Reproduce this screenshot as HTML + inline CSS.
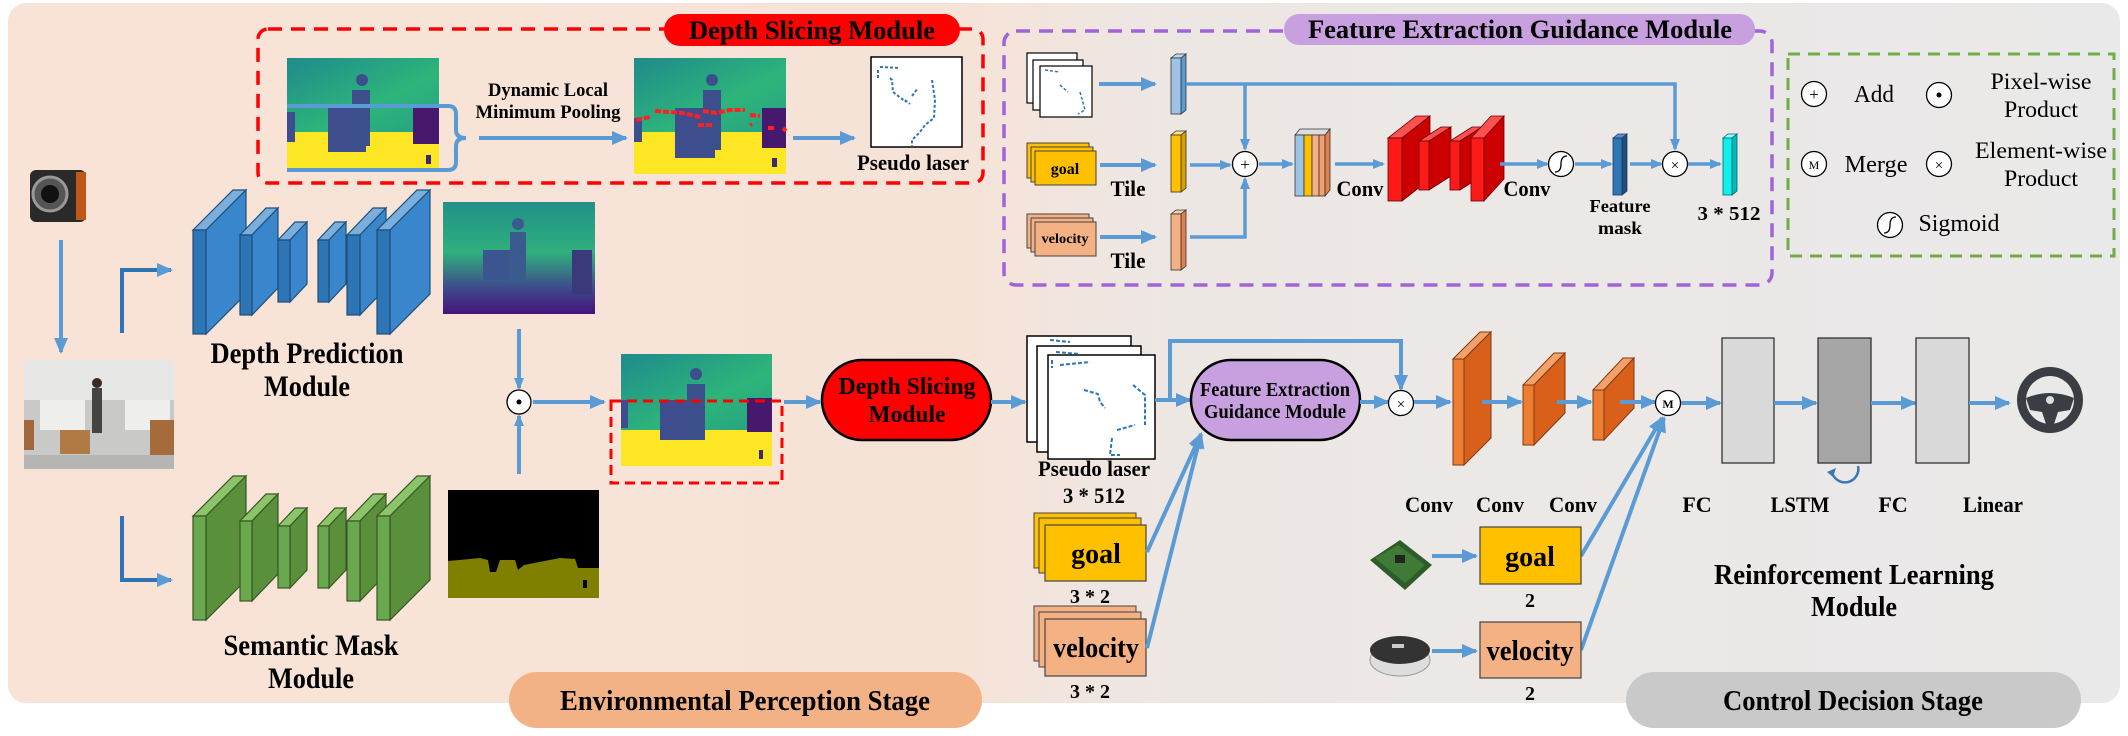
<!DOCTYPE html>
<html><head><meta charset="utf-8">
<style>
html,body{margin:0;padding:0;background:#fff;}
svg{display:block;}
svg text{font-family:"Liberation Serif","DejaVu Serif",serif;font-weight:bold;fill:#000;}
</style></head>
<body>
<svg width="2128" height="736" viewBox="0 0 2128 736" xmlns="http://www.w3.org/2000/svg" font-family="Liberation Serif, DejaVu Serif, serif">
<defs>
<linearGradient id="bg" x1="0" y1="0" x2="1" y2="0">
<stop offset="0" stop-color="#f9e3d6"/><stop offset="0.45" stop-color="#f6e3d8"/><stop offset="0.55" stop-color="#ede7e4"/><stop offset="1" stop-color="#e9e9e9"/>
</linearGradient>
<linearGradient id="dep" x1="0" y1="0" x2="0" y2="1">
<stop offset="0" stop-color="#22908a"/><stop offset="0.45" stop-color="#2fb07c"/><stop offset="0.75" stop-color="#3d4f8c"/><stop offset="1" stop-color="#45137a"/>
</linearGradient>
<linearGradient id="tl" x1="0" y1="0" x2="1" y2="1">
<stop offset="0" stop-color="#1f8a8c"/><stop offset="0.6" stop-color="#2db57a"/><stop offset="1" stop-color="#26a083"/>
</linearGradient>
<marker id="a" markerWidth="16" markerHeight="14" refX="14" refY="7" orient="auto" markerUnits="userSpaceOnUse">
<path d="M0,0 L16,7 L0,14 Z" fill="#5b9bd5"/></marker>
<marker id="as" markerWidth="12" markerHeight="10" refX="10" refY="5" orient="auto" markerUnits="userSpaceOnUse">
<path d="M0,0 L12,5 L0,10 Z" fill="#5b9bd5"/></marker>
</defs>

<rect x="8" y="3" width="2112" height="700" rx="18" fill="url(#bg)"/>

<rect x="509" y="672" width="473" height="56" rx="28" fill="#f2b285"/>
<text x="745" y="710" font-size="28" text-anchor="middle" textLength="370" lengthAdjust="spacingAndGlyphs">Environmental Perception Stage</text>
<rect x="1626" y="672" width="455" height="56" rx="28" fill="#c9c9c9"/>
<text x="1853" y="710" font-size="28" text-anchor="middle" textLength="260" lengthAdjust="spacingAndGlyphs">Control Decision Stage</text>

<rect x="258" y="29" width="725" height="154" rx="10" fill="none" stroke="#ff0000" stroke-width="3.5" stroke-dasharray="14,9"/>
<rect x="664" y="14" width="296" height="32" rx="16" fill="#ff0000"/>
<text x="812" y="39" font-size="26" text-anchor="middle" textLength="246" lengthAdjust="spacingAndGlyphs">Depth Slicing Module</text>

<g>
<rect x="287" y="58" width="152" height="74" fill="url(#tl)"/>
<rect x="287" y="132" width="152" height="40" fill="#fde725"/>
<rect x="328" y="106" width="38" height="46" fill="#3e4d8e"/>
<rect x="352" y="90" width="18" height="56" fill="#3b4f8c"/>
<circle cx="362" cy="80" r="6" fill="#3b4f8c"/>
<rect x="413" y="108" width="26" height="36" fill="#46186e"/>
<rect x="287" y="112" width="8" height="30" fill="#3e4d8e"/>
<rect x="426" y="155" width="5" height="9" fill="#3b2a6e"/>
</g>
<path d="M287,106 L448,106 Q456,106 456,114 L456,130 Q456,138 466,138 Q456,138 456,146 L456,162 Q456,170 448,170 L287,170" fill="none" stroke="#5b9bd5" stroke-width="4"/>
<text x="548" y="96" font-size="19" text-anchor="middle" textLength="120" lengthAdjust="spacingAndGlyphs">Dynamic Local</text>
<text x="548" y="118" font-size="19" text-anchor="middle" textLength="145" lengthAdjust="spacingAndGlyphs">Minimum Pooling</text>
<line x1="479" y1="138" x2="626" y2="138" stroke="#5b9bd5" stroke-width="4" marker-end="url(#a)"/>
<g>
<rect x="634" y="58" width="152" height="74" fill="url(#tl)"/>
<rect x="634" y="132" width="152" height="42" fill="#fde725"/>
<rect x="675" y="108" width="40" height="50" fill="#3e4d8e"/>
<rect x="703" y="90" width="18" height="60" fill="#3b4f8c"/>
<circle cx="712" cy="80" r="6" fill="#3b4f8c"/>
<rect x="762" y="108" width="24" height="40" fill="#46186e"/>
<rect x="634" y="118" width="8" height="24" fill="#3e4d8e"/>
<rect x="772" y="158" width="5" height="9" fill="#3b2a6e"/>
<path d="M636,120 L650,117 M655,111 L683,113 L700,117 M703,111 L716,113 L730,110 L745,110 M750,115 L760,116 M768,128 L775,128 M752,124 L750,125 M698,125 L714,125 M783,128 L786,131" stroke="#ff2020" stroke-width="4" fill="none" stroke-dasharray="6,2"/>
</g>
<line x1="793" y1="138" x2="854" y2="138" stroke="#5b9bd5" stroke-width="4" marker-end="url(#a)"/>
<rect x="871" y="57" width="91" height="90" fill="#fff" stroke="#000" stroke-width="1.5"/>
<path d="M880,67 L900,68 M890,78 L892,80 L893,92 L906,102 M905,100 L910,104 M912,96 L918,88 M932,80 L935,100 L934,118 L925,125 L920,132 L912,140 L912,146 M878,70 L878,78" stroke="#2e75b6" stroke-width="2" fill="none" stroke-dasharray="3,2"/>
<text x="913" y="170" font-size="22" text-anchor="middle" textLength="112" lengthAdjust="spacingAndGlyphs">Pseudo laser</text>

<g>
<rect x="30" y="170" width="56" height="52" rx="6" fill="#2a2a2a"/>
<rect x="76" y="172" width="10" height="48" fill="#c0561a"/>
<circle cx="50" cy="194" r="17" fill="#555" stroke="#999" stroke-width="3"/>
<circle cx="50" cy="194" r="9" fill="#111"/>
</g>
<line x1="61" y1="240" x2="61" y2="352" stroke="#5b9bd5" stroke-width="4" marker-end="url(#a)"/>
<g>
<rect x="24" y="360" width="150" height="109" fill="#c9c9c7"/>
<rect x="24" y="360" width="150" height="40" fill="#e6e6e4"/>
<rect x="40" y="400" width="45" height="30" fill="#eeeeec"/>
<rect x="125" y="400" width="45" height="30" fill="#eeeeec"/>
<rect x="24" y="420" width="10" height="30" fill="#a0673a"/>
<rect x="60" y="430" width="30" height="24" fill="#b07a45"/>
<rect x="150" y="420" width="24" height="40" fill="#a66b3a"/>
<rect x="92" y="388" width="10" height="45" fill="#444"/>
<circle cx="97" cy="383" r="5" fill="#3a2a20"/>
<rect x="24" y="455" width="150" height="14" fill="#b5b5b3"/>
</g>
<path d="M122,333 L122,270 L171,270" fill="none" stroke="#2e75b6" stroke-width="4" marker-end="url(#a)"/>
<path d="M122,516 L122,580 L171,580" fill="none" stroke="#2e75b6" stroke-width="4" marker-end="url(#a)"/>

<g stroke="#1f4e79" stroke-width="1.2">
<polygon points="193,230 233,190 246,190 206,230" fill="#7aaedd"/><polygon points="206,230 246,190 246,294 206,334" fill="#3a86cc"/><rect x="193" y="230" width="13" height="104" fill="#2e75b6"/>
<polygon points="240,235 266,208 278,208 252,235" fill="#7aaedd"/><polygon points="252,235 278,208 278,288 252,315" fill="#3a86cc"/><rect x="240" y="235" width="12" height="80" fill="#2e75b6"/>
<polygon points="278,240 295,222 307,222 290,240" fill="#7aaedd"/><polygon points="290,240 307,222 307,284 290,302" fill="#3a86cc"/><rect x="278" y="240" width="12" height="62" fill="#2e75b6"/>
<polygon points="318,240 335,222 346,222 329,240" fill="#7aaedd"/><polygon points="329,240 346,222 346,284 329,302" fill="#3a86cc"/><rect x="318" y="240" width="11" height="62" fill="#2e75b6"/>
<polygon points="347,235 373,208 386,208 360,235" fill="#7aaedd"/><polygon points="360,235 386,208 386,288 360,315" fill="#3a86cc"/><rect x="347" y="235" width="13" height="80" fill="#2e75b6"/>
<polygon points="377,230 417,190 430,190 390,230" fill="#7aaedd"/><polygon points="390,230 430,190 430,294 390,334" fill="#3a86cc"/><rect x="377" y="230" width="13" height="104" fill="#2e75b6"/>
</g>
<g stroke="#385723" stroke-width="1.2" transform="translate(0,286)">
<polygon points="193,230 233,190 246,190 206,230" fill="#8cc46a"/><polygon points="206,230 246,190 246,294 206,334" fill="#5a8f3c"/><rect x="193" y="230" width="13" height="104" fill="#6aa84f"/>
<polygon points="240,235 266,208 278,208 252,235" fill="#8cc46a"/><polygon points="252,235 278,208 278,288 252,315" fill="#5a8f3c"/><rect x="240" y="235" width="12" height="80" fill="#6aa84f"/>
<polygon points="278,240 295,222 307,222 290,240" fill="#8cc46a"/><polygon points="290,240 307,222 307,284 290,302" fill="#5a8f3c"/><rect x="278" y="240" width="12" height="62" fill="#6aa84f"/>
<polygon points="318,240 335,222 346,222 329,240" fill="#8cc46a"/><polygon points="329,240 346,222 346,284 329,302" fill="#5a8f3c"/><rect x="318" y="240" width="11" height="62" fill="#6aa84f"/>
<polygon points="347,235 373,208 386,208 360,235" fill="#8cc46a"/><polygon points="360,235 386,208 386,288 360,315" fill="#5a8f3c"/><rect x="347" y="235" width="13" height="80" fill="#6aa84f"/>
<polygon points="377,230 417,190 430,190 390,230" fill="#8cc46a"/><polygon points="390,230 430,190 430,294 390,334" fill="#5a8f3c"/><rect x="377" y="230" width="13" height="104" fill="#6aa84f"/>
</g>
<text x="307" y="363" font-size="30" text-anchor="middle" textLength="193" lengthAdjust="spacingAndGlyphs">Depth Prediction</text>
<text x="307" y="396" font-size="30" text-anchor="middle" textLength="86" lengthAdjust="spacingAndGlyphs">Module</text>
<text x="311" y="655" font-size="30" text-anchor="middle" textLength="175" lengthAdjust="spacingAndGlyphs">Semantic Mask</text>
<text x="311" y="688" font-size="30" text-anchor="middle" textLength="86" lengthAdjust="spacingAndGlyphs">Module</text>

<g>
<rect x="443" y="202" width="152" height="112" fill="url(#dep)"/>
<rect x="483" y="250" width="40" height="30" fill="#3a5590"/>
<rect x="510" y="232" width="16" height="50" fill="#3b5a8e"/>
<circle cx="518" cy="224" r="6" fill="#3b5a8e"/>
<rect x="572" y="250" width="20" height="44" fill="#3a3a7a"/>
</g>
<g>
<rect x="448" y="490" width="151" height="108" fill="#000"/>
<path d="M448,561 L470,559 L480,558 L488,560 L490,572 L496,572 L500,560 L515,560 L518,570 L524,565 L560,558 L575,559 L578,568 L599,568 L599,598 L448,598 Z" fill="#808000"/>
<rect x="583" y="580" width="4" height="8" fill="#000"/>
</g>
<line x1="519" y1="329" x2="519" y2="388" stroke="#5b9bd5" stroke-width="4" marker-end="url(#as)"/>
<line x1="519" y1="474" x2="519" y2="416" stroke="#5b9bd5" stroke-width="4" marker-end="url(#as)"/>
<circle cx="519" cy="402" r="12" fill="#fff" stroke="#000" stroke-width="1.3"/>
<circle cx="519" cy="402" r="2.5" fill="#000"/>
<line x1="533" y1="402" x2="604" y2="402" stroke="#5b9bd5" stroke-width="4" marker-end="url(#a)"/>
<g>
<rect x="621" y="354" width="151" height="76" fill="url(#tl)"/>
<rect x="621" y="430" width="151" height="36" fill="#fde725"/>
<rect x="660" y="400" width="40" height="40" fill="#3e4d8e"/>
<rect x="687" y="384" width="18" height="56" fill="#3b4f8c"/>
<circle cx="696" cy="374" r="6" fill="#3b4f8c"/>
<rect x="747" y="398" width="25" height="34" fill="#46186e"/>
<rect x="621" y="400" width="7" height="28" fill="#3e4d8e"/>
<rect x="759" y="450" width="4" height="9" fill="#3b2a6e"/>
</g>
<rect x="611" y="401" width="171" height="82" fill="none" stroke="#ff0000" stroke-width="3" stroke-dasharray="10,6"/>
<line x1="784" y1="402" x2="820" y2="402" stroke="#5b9bd5" stroke-width="4" marker-end="url(#a)"/>
<rect x="822" y="360" width="169" height="80" rx="40" fill="#ff0000" stroke="#000" stroke-width="2.5"/>
<text x="907" y="394" font-size="24" text-anchor="middle" textLength="137" lengthAdjust="spacingAndGlyphs">Depth Slicing</text>
<text x="907" y="422" font-size="24" text-anchor="middle" textLength="77" lengthAdjust="spacingAndGlyphs">Module</text>
<line x1="991" y1="402" x2="1025" y2="402" stroke="#5b9bd5" stroke-width="4" marker-end="url(#a)"/>

<rect x="1027" y="336" width="104" height="106" fill="#fff" stroke="#000" stroke-width="1.5"/>
<rect x="1037" y="346" width="104" height="106" fill="#fff" stroke="#000" stroke-width="1.5"/>
<rect x="1048" y="355" width="107" height="104" fill="#fff" stroke="#000" stroke-width="1.5"/>
<path d="M1050,340 L1070,342 M1056,352 L1080,354 M1060,365 L1090,362 M1084,390 L1098,394 L1100,402 L1105,408 M1133,385 L1145,395 L1145,425 M1112,438 L1110,455 L1120,455 M1117,430 L1135,425 M1052,360 L1052,368" stroke="#2e75b6" stroke-width="2" fill="none" stroke-dasharray="4,2"/>
<text x="1094" y="476" font-size="22" text-anchor="middle" textLength="112" lengthAdjust="spacingAndGlyphs">Pseudo laser</text>
<text x="1094" y="503" font-size="22" text-anchor="middle" textLength="62" lengthAdjust="spacingAndGlyphs">3 * 512</text>
<rect x="1034" y="513" width="102" height="55" fill="#ffc000" stroke="#444" stroke-width="1"/>
<rect x="1039" y="518" width="102" height="55" fill="#ffc000" stroke="#444" stroke-width="1"/>
<rect x="1045" y="525" width="101" height="56" fill="#ffc000" stroke="#444" stroke-width="1.2"/>
<text x="1096" y="563" font-size="28" text-anchor="middle">goal</text>
<text x="1090" y="603" font-size="20" text-anchor="middle">3 * 2</text>
<rect x="1034" y="606" width="102" height="55" fill="#f4b183" stroke="#444" stroke-width="1"/>
<rect x="1039" y="612" width="102" height="55" fill="#f4b183" stroke="#444" stroke-width="1"/>
<rect x="1045" y="619" width="101" height="57" fill="#f4b183" stroke="#444" stroke-width="1.2"/>
<text x="1096" y="657" font-size="28" text-anchor="middle" textLength="86" lengthAdjust="spacingAndGlyphs">velocity</text>
<text x="1090" y="698" font-size="20" text-anchor="middle">3 * 2</text>
<line x1="1147" y1="552" x2="1201" y2="434" stroke="#5b9bd5" stroke-width="4" marker-end="url(#a)"/>
<line x1="1147" y1="648" x2="1201" y2="434" stroke="#5b9bd5" stroke-width="4" marker-end="url(#a)"/>
<line x1="1155" y1="400" x2="1190" y2="400" stroke="#5b9bd5" stroke-width="4" marker-end="url(#a)"/>
<path d="M1170,400 L1170,341 L1401,341 L1401,389" fill="none" stroke="#5b9bd5" stroke-width="4" marker-end="url(#a)"/>
<rect x="1191" y="360" width="169" height="80" rx="40" fill="#c8a0e0" stroke="#000" stroke-width="2.5"/>
<text x="1275" y="396" font-size="20" text-anchor="middle" textLength="150" lengthAdjust="spacingAndGlyphs">Feature Extraction</text>
<text x="1275" y="418" font-size="20" text-anchor="middle" textLength="142" lengthAdjust="spacingAndGlyphs">Guidance Module</text>
<line x1="1360" y1="402" x2="1388" y2="402" stroke="#5b9bd5" stroke-width="4" marker-end="url(#a)"/>
<circle cx="1401" cy="403" r="12.5" fill="#fff" stroke="#000" stroke-width="1.3"/>
<text x="1401" y="409" font-size="15" text-anchor="middle" style="font-weight:normal">×</text>
<line x1="1414" y1="402" x2="1450" y2="402" stroke="#5b9bd5" stroke-width="4" marker-end="url(#a)"/>
<g stroke="#7f3a10" stroke-width="1">
<polygon points="1453,359 1480,332 1491,332 1464,359" fill="#f4a06a"/><polygon points="1464,359 1491,332 1491,438 1464,465" fill="#d9601a"/><rect x="1453" y="359" width="11" height="106" fill="#ed7d31"/>
<polygon points="1523,385 1554,353 1565,353 1534,385" fill="#f4a06a"/><polygon points="1534,385 1565,353 1565,413 1534,445" fill="#d9601a"/><rect x="1523" y="385" width="11" height="60" fill="#ed7d31"/>
<polygon points="1593,390 1623,358 1634,358 1604,390" fill="#f4a06a"/><polygon points="1604,390 1634,358 1634,408 1604,440" fill="#d9601a"/><rect x="1593" y="390" width="11" height="50" fill="#ed7d31"/>
</g>
<line x1="1482" y1="402" x2="1521" y2="402" stroke="#5b9bd5" stroke-width="4" marker-end="url(#a)"/>
<line x1="1557" y1="402" x2="1591" y2="402" stroke="#5b9bd5" stroke-width="4" marker-end="url(#a)"/>
<line x1="1620" y1="402" x2="1655" y2="402" stroke="#5b9bd5" stroke-width="4" marker-end="url(#a)"/>
<line x1="1581" y1="556" x2="1662" y2="418" stroke="#5b9bd5" stroke-width="4" marker-end="url(#a)"/>
<line x1="1581" y1="650" x2="1664" y2="418" stroke="#5b9bd5" stroke-width="4" marker-end="url(#a)"/>
<circle cx="1668" cy="403" r="12.5" fill="#fff" stroke="#000" stroke-width="1.3"/>
<text x="1668" y="408" font-size="12" text-anchor="middle">M</text>
<line x1="1681" y1="403" x2="1720" y2="403" stroke="#5b9bd5" stroke-width="4" marker-end="url(#a)"/>
<rect x="1722" y="338" width="52" height="125" fill="#d9d9d9" stroke="#333" stroke-width="1.3"/>
<line x1="1774" y1="403" x2="1816" y2="403" stroke="#5b9bd5" stroke-width="4" marker-end="url(#a)"/>
<rect x="1818" y="338" width="53" height="125" fill="#a6a6a6" stroke="#333" stroke-width="1.3"/>
<line x1="1871" y1="403" x2="1915" y2="403" stroke="#5b9bd5" stroke-width="4" marker-end="url(#a)"/>
<rect x="1916" y="338" width="53" height="125" fill="#d9d9d9" stroke="#333" stroke-width="1.3"/>
<line x1="1969" y1="403" x2="2009" y2="403" stroke="#5b9bd5" stroke-width="4" marker-end="url(#a)"/>
<path d="M1858,466 A12,12 0 1 1 1832,472" fill="none" stroke="#3a78b5" stroke-width="2.5"/>
<path d="M1827,472 L1836,468 L1833,477 Z" fill="#3a78b5"/>
<g>
<circle cx="2050" cy="400" r="33" fill="#3a3d42"/>
<circle cx="2050" cy="400" r="24" fill="#e9e9e9"/>
<path d="M2026,398 Q2050,388 2074,398 L2070,410 L2058,412 L2054,424 L2046,424 L2042,412 L2030,410 Z" fill="#3a3d42"/>
<circle cx="2050" cy="400" r="4" fill="#ddd"/>
</g>
<text x="1429" y="512" font-size="22" text-anchor="middle" textLength="48" lengthAdjust="spacingAndGlyphs">Conv</text>
<text x="1500" y="512" font-size="22" text-anchor="middle" textLength="48" lengthAdjust="spacingAndGlyphs">Conv</text>
<text x="1573" y="512" font-size="22" text-anchor="middle" textLength="48" lengthAdjust="spacingAndGlyphs">Conv</text>
<text x="1697" y="512" font-size="22" text-anchor="middle">FC</text>
<text x="1800" y="512" font-size="22" text-anchor="middle" textLength="59" lengthAdjust="spacingAndGlyphs">LSTM</text>
<text x="1893" y="512" font-size="22" text-anchor="middle">FC</text>
<text x="1993" y="512" font-size="22" text-anchor="middle" textLength="60" lengthAdjust="spacingAndGlyphs">Linear</text>
<g>
<polygon points="1370,560 1400,540 1432,565 1405,590" fill="#2e5b2a"/>
<polygon points="1375,558 1398,545 1425,565 1405,583" fill="#3f7a36"/>
<rect x="1395" y="555" width="10" height="8" fill="#222"/>
</g>
<line x1="1432" y1="556" x2="1476" y2="556" stroke="#5b9bd5" stroke-width="4" marker-end="url(#a)"/>
<rect x="1480" y="527" width="101" height="57" fill="#ffc000" stroke="#444" stroke-width="1.2"/>
<text x="1530" y="566" font-size="28" text-anchor="middle">goal</text>
<text x="1530" y="607" font-size="20" text-anchor="middle">2</text>
<g>
<ellipse cx="1400" cy="660" rx="30" ry="16" fill="#ddd" stroke="#999"/>
<ellipse cx="1400" cy="650" rx="30" ry="14" fill="#333"/>
<rect x="1392" y="644" width="12" height="4" fill="#ccc"/>
</g>
<line x1="1432" y1="651" x2="1476" y2="651" stroke="#5b9bd5" stroke-width="4" marker-end="url(#a)"/>
<rect x="1480" y="622" width="101" height="56" fill="#f4b183" stroke="#444" stroke-width="1.2"/>
<text x="1530" y="660" font-size="28" text-anchor="middle" textLength="87" lengthAdjust="spacingAndGlyphs">velocity</text>
<text x="1530" y="700" font-size="20" text-anchor="middle">2</text>
<text x="1854" y="584" font-size="28" text-anchor="middle" textLength="280" lengthAdjust="spacingAndGlyphs">Reinforcement Learning</text>
<text x="1854" y="616" font-size="28" text-anchor="middle" textLength="86" lengthAdjust="spacingAndGlyphs">Module</text>

<rect x="1004" y="31" width="768" height="254" rx="12" fill="none" stroke="#a064d8" stroke-width="3.5" stroke-dasharray="14,9"/>
<rect x="1284" y="14" width="471" height="31" rx="15" fill="#c8a0e0"/>
<text x="1520" y="38" font-size="26" text-anchor="middle" textLength="424" lengthAdjust="spacingAndGlyphs">Feature Extraction Guidance Module</text>
<rect x="1027" y="53" width="50" height="50" fill="#fff" stroke="#000" stroke-width="1.2"/>
<rect x="1033" y="60" width="50" height="50" fill="#fff" stroke="#000" stroke-width="1.2"/>
<rect x="1040" y="66" width="52" height="51" fill="#fff" stroke="#000" stroke-width="1.2"/>
<path d="M1045,70 L1060,72 M1060,85 L1068,92 M1080,92 L1085,110 L1078,114" stroke="#2e75b6" stroke-width="1.5" fill="none" stroke-dasharray="3,2"/>
<line x1="1099" y1="84" x2="1155" y2="84" stroke="#5b9bd5" stroke-width="4" marker-end="url(#a)"/>
<g stroke="#333" stroke-width="0.8">
<polygon points="1171,58 1176,54 1186,54 1181,58" fill="#bdd7ee"/><polygon points="1181,58 1186,54 1186,110 1181,114" fill="#5b9bd5"/><rect x="1171" y="58" width="10" height="56" fill="#9dc3e6"/>
<polygon points="1171,135 1176,131 1186,131 1181,135" fill="#ffe08a"/><polygon points="1181,135 1186,131 1186,188 1181,192" fill="#d9a000"/><rect x="1171" y="135" width="10" height="57" fill="#ffc000"/>
<polygon points="1171,214 1176,210 1186,210 1181,214" fill="#f8cbad"/><polygon points="1181,214 1186,210 1186,266 1181,270" fill="#e08050"/><rect x="1171" y="214" width="10" height="56" fill="#f4b183"/>
</g>
<rect x="1027" y="143" width="62" height="35" fill="#ffc000" stroke="#444" stroke-width="1"/>
<rect x="1031" y="147" width="62" height="35" fill="#ffc000" stroke="#444" stroke-width="1"/>
<rect x="1035" y="151" width="61" height="34" fill="#ffc000" stroke="#444" stroke-width="1"/>
<text x="1065" y="174" font-size="16" text-anchor="middle">goal</text>
<rect x="1027" y="214" width="62" height="34" fill="#f4b183" stroke="#444" stroke-width="1"/>
<rect x="1031" y="218" width="62" height="34" fill="#f4b183" stroke="#444" stroke-width="1"/>
<rect x="1035" y="222" width="61" height="34" fill="#f4b183" stroke="#444" stroke-width="1"/>
<text x="1065" y="243" font-size="14" text-anchor="middle" textLength="47" lengthAdjust="spacingAndGlyphs">velocity</text>
<line x1="1100" y1="165" x2="1155" y2="165" stroke="#5b9bd5" stroke-width="4" marker-end="url(#a)"/>
<line x1="1100" y1="237" x2="1155" y2="237" stroke="#5b9bd5" stroke-width="4" marker-end="url(#a)"/>
<text x="1128" y="196" font-size="22" text-anchor="middle" textLength="35" lengthAdjust="spacingAndGlyphs">Tile</text>
<text x="1128" y="268" font-size="22" text-anchor="middle" textLength="35" lengthAdjust="spacingAndGlyphs">Tile</text>
<path d="M1186,84 L1675,84 L1675,149" fill="none" stroke="#5b9bd5" stroke-width="3.5" marker-end="url(#as)"/>
<line x1="1245" y1="84" x2="1245" y2="149" stroke="#5b9bd5" stroke-width="3.5" marker-end="url(#as)"/>
<line x1="1190" y1="165" x2="1230" y2="165" stroke="#5b9bd5" stroke-width="3.5" marker-end="url(#as)"/>
<path d="M1190,237 L1245,237 L1245,179" fill="none" stroke="#5b9bd5" stroke-width="3.5" marker-end="url(#as)"/>
<circle cx="1245" cy="164" r="12.5" fill="#fff" stroke="#000" stroke-width="1.3"/>
<text x="1245" y="170" font-size="17" text-anchor="middle" style="font-weight:normal">+</text>
<line x1="1259" y1="164" x2="1292" y2="164" stroke="#5b9bd5" stroke-width="3.5" marker-end="url(#as)"/>
<g stroke="#333" stroke-width="0.8">
<polygon points="1295,135 1300,129 1330,129 1325,135" fill="#ddd"/>
<rect x="1295" y="135" width="9" height="61" fill="#9dc3e6"/>
<rect x="1304" y="135" width="8" height="61" fill="#ffc000"/>
<rect x="1312" y="135" width="7" height="61" fill="#f4b183"/>
<rect x="1319" y="135" width="6" height="61" fill="#f4a06a"/>
<polygon points="1325,135 1330,129 1330,190 1325,196" fill="#e08050"/>
</g>
<line x1="1335" y1="164" x2="1383" y2="164" stroke="#5b9bd5" stroke-width="3.5" marker-end="url(#as)"/>
<text x="1360" y="196" font-size="22" text-anchor="middle" textLength="47" lengthAdjust="spacingAndGlyphs">Conv</text>
<g stroke="#600" stroke-width="0.8">
<polygon points="1388,138 1416,116 1430,116 1402,138" fill="#ff5050"/><polygon points="1402,138 1430,116 1430,179 1402,201" fill="#cc0000"/><rect x="1388" y="138" width="14" height="63" fill="#ff1a1a"/>
<polygon points="1419,141 1441,127 1451,127 1429,141" fill="#ff5050"/><polygon points="1429,141 1451,127 1451,176 1429,190" fill="#cc0000"/><rect x="1419" y="141" width="10" height="49" fill="#ff1a1a"/>
<polygon points="1450,141 1472,127 1482,127 1460,141" fill="#ff5050"/><polygon points="1460,141 1482,127 1482,176 1460,190" fill="#cc0000"/><rect x="1450" y="141" width="10" height="49" fill="#ff1a1a"/>
<polygon points="1471,138 1491,116 1504,116 1484,138" fill="#ff5050"/><polygon points="1484,138 1504,116 1504,179 1484,201" fill="#cc0000"/><rect x="1471" y="138" width="13" height="63" fill="#ff1a1a"/>
</g>
<line x1="1500" y1="164" x2="1547" y2="164" stroke="#5b9bd5" stroke-width="3.5" marker-end="url(#as)"/>
<text x="1527" y="196" font-size="22" text-anchor="middle" textLength="47" lengthAdjust="spacingAndGlyphs">Conv</text>
<circle cx="1561" cy="164" r="12.5" fill="#fff" stroke="#000" stroke-width="1.3"/>
<path d="M1555,172 Q1561,172 1561,164 Q1561,156 1567,156" fill="none" stroke="#000" stroke-width="1.3"/>
<line x1="1575" y1="164" x2="1611" y2="164" stroke="#5b9bd5" stroke-width="3.5" marker-end="url(#as)"/>
<g stroke="#1f3864" stroke-width="0.8">
<polygon points="1613,138 1618,134 1627,134 1622,138" fill="#5b8fd5"/><polygon points="1622,138 1627,134 1627,191 1622,195" fill="#1f4e79"/><rect x="1613" y="138" width="9" height="57" fill="#2e75b6"/>
</g>
<text x="1620" y="212" font-size="18" text-anchor="middle" textLength="61" lengthAdjust="spacingAndGlyphs">Feature</text>
<text x="1620" y="234" font-size="18" text-anchor="middle" textLength="44" lengthAdjust="spacingAndGlyphs">mask</text>
<line x1="1630" y1="164" x2="1661" y2="164" stroke="#5b9bd5" stroke-width="3.5" marker-end="url(#as)"/>
<circle cx="1675" cy="164" r="12.5" fill="#fff" stroke="#000" stroke-width="1.3"/>
<text x="1675" y="170" font-size="15" text-anchor="middle" style="font-weight:normal">×</text>
<line x1="1688" y1="164" x2="1720" y2="164" stroke="#5b9bd5" stroke-width="3.5" marker-end="url(#as)"/>
<g stroke="#066" stroke-width="0.8">
<polygon points="1723,138 1728,134 1737,134 1732,138" fill="#9ff"/><polygon points="1732,138 1737,134 1737,191 1732,195" fill="#0bb"/><rect x="1723" y="138" width="9" height="57" fill="#1ee"/>
</g>
<text x="1729" y="220" font-size="20" text-anchor="middle" textLength="63" lengthAdjust="spacingAndGlyphs">3 * 512</text>

<rect x="1788" y="54" width="326" height="202" fill="none" stroke="#70ad47" stroke-width="3" stroke-dasharray="12,8"/>
<circle cx="1814" cy="94" r="12.5" fill="#fff" stroke="#000" stroke-width="1.3"/>
<text x="1814" y="100" font-size="17" text-anchor="middle" style="font-weight:normal">+</text>
<text x="1874" y="102" font-size="24" text-anchor="middle" style="font-weight:normal" textLength="40" lengthAdjust="spacingAndGlyphs">Add</text>
<circle cx="1939" cy="95" r="12.5" fill="#fff" stroke="#000" stroke-width="1.3"/>
<circle cx="1939" cy="95" r="2.5" fill="#000"/>
<text x="2041" y="89" font-size="23" text-anchor="middle" style="font-weight:normal" textLength="101" lengthAdjust="spacingAndGlyphs">Pixel-wise</text>
<text x="2041" y="117" font-size="23" text-anchor="middle" style="font-weight:normal" textLength="74" lengthAdjust="spacingAndGlyphs">Product</text>
<circle cx="1814" cy="164" r="12.5" fill="#fff" stroke="#000" stroke-width="1.3"/>
<text x="1814" y="169" font-size="12" text-anchor="middle" style="font-weight:normal">M</text>
<text x="1876" y="172" font-size="24" text-anchor="middle" style="font-weight:normal" textLength="63" lengthAdjust="spacingAndGlyphs">Merge</text>
<circle cx="1939" cy="164" r="12.5" fill="#fff" stroke="#000" stroke-width="1.3"/>
<text x="1939" y="170" font-size="15" text-anchor="middle" style="font-weight:normal">×</text>
<text x="2041" y="158" font-size="23" text-anchor="middle" style="font-weight:normal" textLength="132" lengthAdjust="spacingAndGlyphs">Element-wise</text>
<text x="2041" y="186" font-size="23" text-anchor="middle" style="font-weight:normal" textLength="74" lengthAdjust="spacingAndGlyphs">Product</text>
<circle cx="1890" cy="225" r="12.5" fill="#fff" stroke="#000" stroke-width="1.3"/>
<path d="M1884,233 Q1890,233 1890,225 Q1890,217 1896,217" fill="none" stroke="#000" stroke-width="1.3"/>
<text x="1959" y="231" font-size="24" text-anchor="middle" style="font-weight:normal" textLength="81" lengthAdjust="spacingAndGlyphs">Sigmoid</text>
</svg>
</body></html>
